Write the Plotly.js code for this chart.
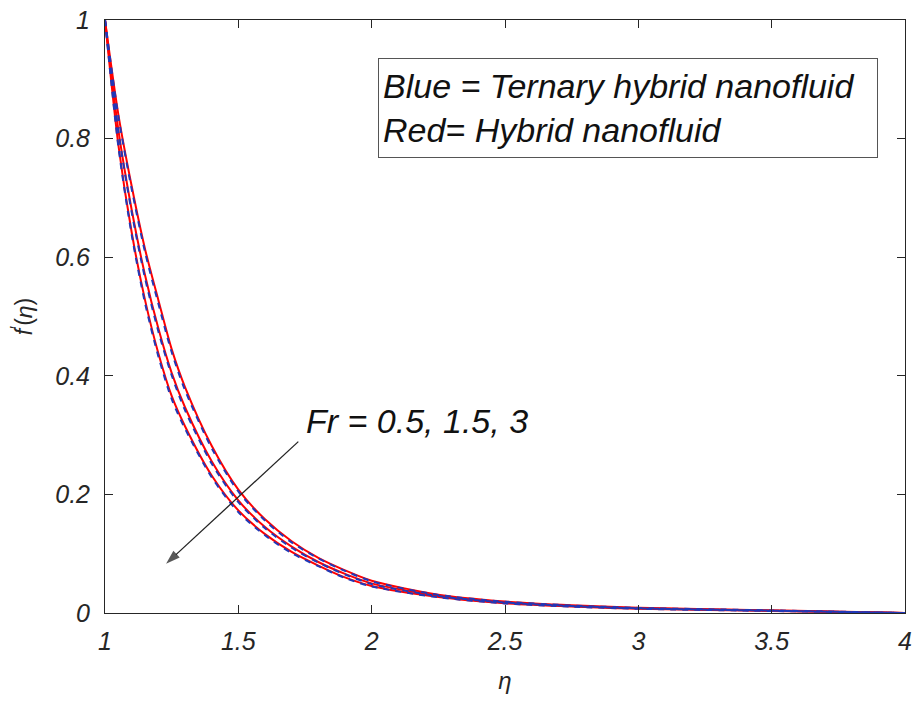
<!DOCTYPE html>
<html>
<head>
<meta charset="utf-8">
<script src="https://cdn.plot.ly/plotly-3.0.1.min.js"></script>
<style>html,body{margin:0;padding:0;background:#fff;}#chart{width:915px;height:707px;}</style>
</head>
<body>
<div id="chart"></div>
<script>
// eta grid
const eta = [1, 1.05, 1.1, 1.15, 1.2, 1.25, 1.3, 1.4, 1.5, 1.6, 1.7, 1.8, 1.9, 2.0, 2.25, 2.5, 2.75, 3.0, 3.5, 4.0];

// Red = Hybrid nanofluid, Fr = 0.5, 1.5, 3
const redFr05 = [1, 0.841, 0.720, 0.614, 0.528, 0.445, 0.381, 0.282, 0.208, 0.158, 0.121, 0.093, 0.072, 0.0545, 0.031, 0.0195, 0.013, 0.0088, 0.0045, 0];
const redFr15 = [1, 0.815, 0.680, 0.570, 0.480, 0.405, 0.347, 0.256, 0.190, 0.145, 0.112, 0.086, 0.066, 0.050, 0.029, 0.018, 0.012, 0.008, 0.004, 0];
const redFr3  = [1, 0.790, 0.642, 0.528, 0.438, 0.366, 0.315, 0.232, 0.173, 0.133, 0.103, 0.080, 0.060, 0.0455, 0.027, 0.0165, 0.011, 0.0072, 0.0035, 0];

// Blue = Ternary hybrid nanofluid, Fr = 0.5, 1.5, 3
const blueFr05 = [1, 0.838, 0.715, 0.609, 0.522, 0.440, 0.376, 0.278, 0.205, 0.156, 0.119, 0.092, 0.071, 0.0535, 0.0305, 0.019, 0.0127, 0.0086, 0.0044, 0];
const blueFr15 = [1, 0.812, 0.676, 0.565, 0.475, 0.401, 0.342, 0.252, 0.187, 0.143, 0.110, 0.085, 0.065, 0.049, 0.0285, 0.0177, 0.0118, 0.0079, 0.0039, 0];
const blueFr3  = [1, 0.787, 0.638, 0.523, 0.433, 0.361, 0.311, 0.229, 0.170, 0.131, 0.101, 0.079, 0.059, 0.0448, 0.0265, 0.0162, 0.0108, 0.0071, 0.0034, 0];

const xTicks = [1, 1.5, 2, 2.5, 3, 3.5, 4];
const xTickText = ['1', '1.5', '2', '2.5', '3', '3.5', '4'];
const yTicks = [0, 0.2, 0.4, 0.6, 0.8, 1];
const yTickText = ['0', '0.2', '0.4', '0.6', '0.8', '1'];

const legendLines = ['Blue = Ternary hybrid nanofluid', 'Red= Hybrid nanofluid'];
const paramLabel = 'Fr = 0.5, 1.5, 3';
const arrowX = [1.725, 1.229];
const arrowY = [0.289, 0.083];

const RED = '#ff0000';
const BLUE = '#2038b8';
const AX = '#262626';

function redTrace(y, name) {
  return {x: eta, y: y, type: 'scatter', mode: 'lines', name: name,
    line: {color: RED, width: 2, shape: 'spline', smoothing: 0.8}, hoverinfo: 'x+y'};
}
function blueTrace(y, name) {
  return {x: eta, y: y, type: 'scatter', mode: 'lines', name: name,
    line: {color: BLUE, width: 2, dash: '6px,6px', shape: 'spline', smoothing: 0.8}, hoverinfo: 'x+y'};
}

const data = [
  redTrace(redFr05, 'Hybrid, Fr=0.5'),
  redTrace(redFr15, 'Hybrid, Fr=1.5'),
  redTrace(redFr3, 'Hybrid, Fr=3'),
  blueTrace(blueFr05, 'Ternary, Fr=0.5'),
  blueTrace(blueFr15, 'Ternary, Fr=1.5'),
  blueTrace(blueFr3, 'Ternary, Fr=3'),
  {x: arrowX, y: arrowY, type: 'scatter', mode: 'lines+markers', name: 'arrow',
   line: {color: '#222222', width: 1.3},
   marker: {symbol: 'arrow', angleref: 'previous', size: [0, 15], color: '#111111', line: {width: 0}},
   hoverinfo: 'skip'}
];

const tickFont = {family: 'Liberation Sans, Arial, sans-serif', size: 25, color: AX, style: 'italic'};

const layout = {
  width: 915, height: 707,
  margin: {l: 105, r: 10, t: 20, b: 94},
  paper_bgcolor: '#ffffff', plot_bgcolor: '#ffffff',
  showlegend: false,
  xaxis: {
    range: [1, 4], tickvals: xTicks, ticktext: xTickText,
    ticks: 'inside', ticklen: 8, tickwidth: 1, tickcolor: AX,
    showline: true, linecolor: AX, linewidth: 1, mirror: 'ticks',
    showgrid: false, zeroline: false, tickfont: tickFont, ticklabelstandoff: 6,
    title: {text: '<i>η</i>', font: {family: 'Liberation Sans, Arial, sans-serif', size: 24, color: AX}, standoff: 18}
  },
  yaxis: {
    range: [0, 1], tickvals: yTicks, ticktext: yTickText,
    ticks: 'inside', ticklen: 8, tickwidth: 1, tickcolor: AX,
    showline: true, linecolor: AX, linewidth: 1, mirror: 'ticks',
    showgrid: false, zeroline: false, tickfont: tickFont, ticklabelstandoff: 9,
    title: {text: '<i>f</i><sup>′</sup>(<i>η</i>)', font: {family: 'Liberation Sans, Arial, sans-serif', size: 23, color: AX}, standoff: 16}
  },
  annotations: [
    {
      xref: 'paper', yref: 'paper', x: 0.3413, y: 0.936, xanchor: 'left', yanchor: 'top',
      text: '<i>' + legendLines.join('</i><br><i>') + '</i>',
      align: 'left', showarrow: false,
      font: {family: 'Liberation Sans, Arial, sans-serif', size: 34, color: '#111111'},
      bordercolor: '#555555', borderwidth: 1, borderpad: 4, bgcolor: '#ffffff',
      width: 490, height: 90
    },
    {
      xref: 'x', yref: 'y', x: 1.748, y: 0.323, xanchor: 'left', yanchor: 'middle',
      text: '<i>' + paramLabel + '</i>', showarrow: false,
      font: {family: 'Liberation Sans, Arial, sans-serif', size: 34, color: '#111111'}
    }
  ]
};

Plotly.newPlot('chart', data, layout, {displayModeBar: false, staticPlot: true});
</script>
</body>
</html>
